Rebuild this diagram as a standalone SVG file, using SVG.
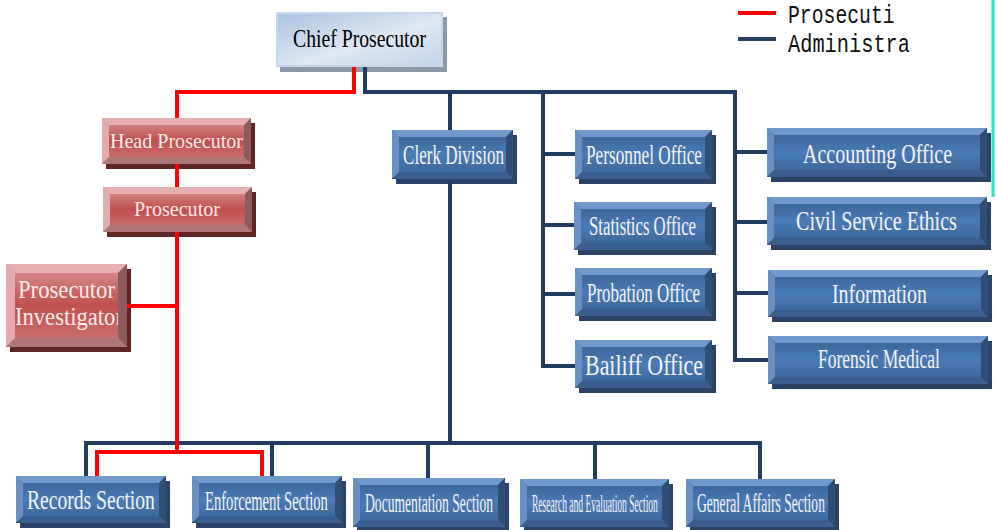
<svg xmlns="http://www.w3.org/2000/svg" width="996" height="530" viewBox="0 0 996 530">
<defs>
<linearGradient id="gBlue" x1="0" y1="0" x2="0" y2="1">
<stop offset="0" stop-color="#35608f"/><stop offset="0.5" stop-color="#4a7bb6"/><stop offset="1" stop-color="#37628f"/>
</linearGradient>
<linearGradient id="gRed" x1="0" y1="0" x2="0" y2="1">
<stop offset="0" stop-color="#d89594"/><stop offset="0.5" stop-color="#c0504d"/><stop offset="1" stop-color="#cc7876"/>
</linearGradient>
<linearGradient id="gChief" x1="0" y1="0" x2="1" y2="1">
<stop offset="0" stop-color="#a9c1e0"/><stop offset="0.55" stop-color="#dfe8f3"/><stop offset="1" stop-color="#c2d3ea"/>
</linearGradient>
<clipPath id="clipInv"><rect x="6" y="264" width="112" height="83"/></clipPath>
</defs>
<style>
.bsh{fill:#2b4465}.bc{fill:url(#gBlue)}.bt{fill:#7199cb}.bl{fill:#6a90c3}.br{fill:#2f4d75}.bb{fill:#3a5f8f}
.rsh{fill:#5f2525}.rc{fill:url(#gRed)}.rt{fill:#e6b0b0}.rl{fill:#e3abab}.rr{fill:#8c5b5b}.rb{fill:#ae7777}
.tw{font-family:"Liberation Serif","Times New Roman",serif;fill:#f4f4f4}
.tr{font-family:"Liberation Serif","Times New Roman",serif;fill:#fbeaea}
.tk{font-family:"Liberation Serif","Times New Roman",serif;fill:#000}
.lg{font-family:"Liberation Mono","DejaVu Sans Mono",monospace;font-size:26px;fill:#111}
.cb{fill:none;stroke:#213c60;stroke-width:4;stroke-linejoin:miter}
.cr{fill:none;stroke:#ff0000;stroke-width:4;stroke-linejoin:miter}
</style>
<rect width="996" height="530" fill="#ffffff"/>
<line x1="993" y1="0" x2="993" y2="197" stroke="#1ee8c4" stroke-width="3"/>
<g id="legend">
<line x1="738" y1="13" x2="776" y2="13" stroke="#ff0000" stroke-width="4"/>
<line x1="738" y1="39" x2="776" y2="39" stroke="#243f60" stroke-width="4"/>
<text class="lg" transform="translate(788,23) scale(0.762,1)" textLength="140" lengthAdjust="spacingAndGlyphs">Prosecuti</text>
<text class="lg" transform="translate(788,52) scale(0.782,1)" textLength="156" lengthAdjust="spacingAndGlyphs">Administra</text>
</g>
<g id="chief">
<rect x="280" y="17" width="167" height="55" fill="#8d98a8"/>
<rect x="277" y="13" width="165" height="53" fill="url(#gChief)" stroke="#c8d8ec" stroke-width="2"/>
<text class="tk" font-size="26" transform="translate(293,47) scale(0.758,1)" textLength="175.5" lengthAdjust="spacingAndGlyphs">Chief Prosecutor</text>
</g>
<g id="head-prosecutor">
<rect class="rsh" x="106" y="123" width="149" height="46"/>
<rect class="rc" x="102" y="118" width="149" height="46"/>
<polygon class="rt" points="102,118 251,118 244,125 109,125"/>
<polygon class="rl" points="102,118 109,125 109,157 102,164"/>
<polygon class="rr" points="251,118 251,164 244,157 244,125"/>
<polygon class="rb" points="102,164 251,164 244,157 109,157"/>
<text class="tr" font-size="22" transform="translate(110,148) scale(0.911,1)" textLength="146" lengthAdjust="spacingAndGlyphs">Head Prosecutor</text>
</g>
<g id="prosecutor">
<rect class="rsh" x="107" y="192" width="149" height="45"/>
<rect class="rc" x="103" y="187" width="149" height="45"/>
<polygon class="rt" points="103,187 252,187 245,194 110,194"/>
<polygon class="rl" points="103,187 110,194 110,225 103,232"/>
<polygon class="rr" points="252,187 252,232 245,225 245,194"/>
<polygon class="rb" points="103,232 252,232 245,225 110,225"/>
<text class="tr" font-size="22" transform="translate(134,216) scale(0.914,1)" textLength="94.1" lengthAdjust="spacingAndGlyphs">Prosecutor</text>
</g>
<g id="prosecutor-investigator">
<rect class="rsh" x="10" y="269" width="121" height="83"/>
<rect class="rc" x="6" y="264" width="121" height="83"/>
<polygon class="rt" points="6,264 127,264 118,273 15,273"/>
<polygon class="rl" points="6,264 15,273 15,338 6,347"/>
<polygon class="rr" points="127,264 127,347 118,338 118,273"/>
<polygon class="rb" points="6,347 127,347 118,338 15,338"/>
<g clip-path="url(#clipInv)">
<text class="tr" font-size="25" transform="translate(18,298) scale(0.907,1)" textLength="106.9" lengthAdjust="spacingAndGlyphs">Prosecutor</text>
<text class="tr" font-size="25" transform="translate(15,325) scale(0.904,1)" textLength="119.4" lengthAdjust="spacingAndGlyphs">Investigator</text>
</g>
</g>
<g id="clerk-division">
<rect class="bsh" x="396" y="135" width="121" height="49"/>
<rect class="bc" x="392" y="130" width="121" height="49"/>
<polygon class="bt" points="392,130 513,130 506,137 399,137"/>
<polygon class="bl" points="392,130 399,137 399,172 392,179"/>
<polygon class="br" points="513,130 513,179 506,172 506,137"/>
<polygon class="bb" points="392,179 513,179 506,172 399,172"/>
<text class="tw" font-size="28" transform="translate(403,164) scale(0.61,1)" textLength="165.7" lengthAdjust="spacingAndGlyphs">Clerk Division</text>
</g>
<g id="personnel-office">
<rect class="bsh" x="579" y="135" width="137" height="49"/>
<rect class="bc" x="575" y="130" width="137" height="49"/>
<polygon class="bt" points="575,130 712,130 705,137 582,137"/>
<polygon class="bl" points="575,130 582,137 582,172 575,179"/>
<polygon class="br" points="712,130 712,179 705,172 705,137"/>
<polygon class="bb" points="575,179 712,179 705,172 582,172"/>
<text class="tw" font-size="28" transform="translate(586,164) scale(0.614,1)" textLength="188.9" lengthAdjust="spacingAndGlyphs">Personnel Office</text>
</g>
<g id="statistics-office">
<rect class="bsh" x="578" y="207" width="138" height="48"/>
<rect class="bc" x="574" y="202" width="138" height="48"/>
<polygon class="bt" points="574,202 712,202 705,209 581,209"/>
<polygon class="bl" points="574,202 581,209 581,243 574,250"/>
<polygon class="br" points="712,202 712,250 705,243 705,209"/>
<polygon class="bb" points="574,250 712,250 705,243 581,243"/>
<text class="tw" font-size="27" transform="translate(589,235) scale(0.618,1)" textLength="173.2" lengthAdjust="spacingAndGlyphs">Statistics Office</text>
</g>
<g id="probation-office">
<rect class="bsh" x="579" y="273" width="137" height="48"/>
<rect class="bc" x="575" y="268" width="137" height="48"/>
<polygon class="bt" points="575,268 712,268 705,275 582,275"/>
<polygon class="bl" points="575,268 582,275 582,309 575,316"/>
<polygon class="br" points="712,268 712,316 705,309 705,275"/>
<polygon class="bb" points="575,316 712,316 705,309 582,309"/>
<text class="tw" font-size="28" transform="translate(587,302) scale(0.603,1)" textLength="187.4" lengthAdjust="spacingAndGlyphs">Probation Office</text>
</g>
<g id="bailiff-office">
<rect class="bsh" x="579" y="345" width="137" height="48"/>
<rect class="bc" x="575" y="340" width="137" height="48"/>
<polygon class="bt" points="575,340 712,340 705,347 582,347"/>
<polygon class="bl" points="575,340 582,347 582,381 575,388"/>
<polygon class="br" points="712,340 712,388 705,381 705,347"/>
<polygon class="bb" points="575,388 712,388 705,381 582,381"/>
<text class="tw" font-size="30" transform="translate(585,375) scale(0.726,1)" textLength="162.5" lengthAdjust="spacingAndGlyphs">Bailiff Office</text>
</g>
<g id="accounting-office">
<rect class="bsh" x="771" y="133" width="220" height="49"/>
<rect class="bc" x="767" y="128" width="220" height="49"/>
<polygon class="bt" points="767,128 987,128 980,135 774,135"/>
<polygon class="bl" points="767,128 774,135 774,170 767,177"/>
<polygon class="br" points="987,128 987,177 980,170 980,135"/>
<polygon class="bb" points="767,177 987,177 980,170 774,170"/>
<text class="tw" font-size="27" transform="translate(803,163) scale(0.739,1)" textLength="201.7" lengthAdjust="spacingAndGlyphs">Accounting Office</text>
</g>
<g id="civil-service-ethics">
<rect class="bsh" x="771" y="202" width="220" height="48"/>
<rect class="bc" x="767" y="197" width="220" height="48"/>
<polygon class="bt" points="767,197 987,197 980,204 774,204"/>
<polygon class="bl" points="767,197 774,204 774,238 767,245"/>
<polygon class="br" points="987,197 987,245 980,238 980,204"/>
<polygon class="bb" points="767,245 987,245 980,238 774,238"/>
<text class="tw" font-size="27" transform="translate(796,230) scale(0.745,1)" textLength="216" lengthAdjust="spacingAndGlyphs">Civil Service Ethics</text>
</g>
<g id="information">
<rect class="bsh" x="772" y="275" width="220" height="47"/>
<rect class="bc" x="768" y="270" width="220" height="47"/>
<polygon class="bt" points="768,270 988,270 981,277 775,277"/>
<polygon class="bl" points="768,270 775,277 775,310 768,317"/>
<polygon class="br" points="988,270 988,317 981,310 981,277"/>
<polygon class="bb" points="768,317 988,317 981,310 775,310"/>
<text class="tw" font-size="27" transform="translate(832,303) scale(0.736,1)" textLength="129" lengthAdjust="spacingAndGlyphs">Information</text>
</g>
<g id="forensic-medical">
<rect class="bsh" x="772" y="341" width="220" height="48"/>
<rect class="bc" x="768" y="336" width="220" height="48"/>
<polygon class="bt" points="768,336 988,336 981,343 775,343"/>
<polygon class="bl" points="768,336 775,343 775,377 768,384"/>
<polygon class="br" points="988,336 988,384 981,377 981,343"/>
<polygon class="bb" points="768,384 988,384 981,377 775,377"/>
<text class="tw" font-size="27" transform="translate(818,368) scale(0.648,1)" textLength="188.2" lengthAdjust="spacingAndGlyphs">Forensic Medical</text>
</g>
<g id="records-section">
<rect class="bsh" x="20" y="481" width="150" height="47"/>
<rect class="bc" x="16" y="476" width="150" height="47"/>
<polygon class="bt" points="16,476 166,476 159,483 23,483"/>
<polygon class="bl" points="16,476 23,483 23,516 16,523"/>
<polygon class="br" points="166,476 166,523 159,516 159,483"/>
<polygon class="bb" points="16,523 166,523 159,516 23,516"/>
<text class="tw" font-size="27" transform="translate(27,509) scale(0.726,1)" textLength="176.2" lengthAdjust="spacingAndGlyphs">Records Section</text>
</g>
<g id="enforcement-section">
<rect class="bsh" x="196" y="481" width="150" height="47"/>
<rect class="bc" x="192" y="476" width="150" height="47"/>
<polygon class="bt" points="192,476 342,476 335,483 199,483"/>
<polygon class="bl" points="192,476 199,483 199,516 192,523"/>
<polygon class="br" points="342,476 342,523 335,516 335,483"/>
<polygon class="bb" points="192,523 342,523 335,516 199,516"/>
<text class="tw" font-size="27" transform="translate(205,510) scale(0.541,1)" textLength="227.2" lengthAdjust="spacingAndGlyphs">Enforcement Section</text>
</g>
<g id="documentation-section">
<rect class="bsh" x="357" y="483" width="152" height="49"/>
<rect class="bc" x="353" y="478" width="152" height="49"/>
<polygon class="bt" points="353,478 505,478 498,485 360,485"/>
<polygon class="bl" points="353,478 360,485 360,520 353,527"/>
<polygon class="br" points="505,478 505,527 498,520 498,485"/>
<polygon class="bb" points="353,527 505,527 498,520 360,520"/>
<text class="tw" font-size="27" transform="translate(365,512) scale(0.504,1)" textLength="254.2" lengthAdjust="spacingAndGlyphs">Documentation Section</text>
</g>
<g id="research-evaluation-section">
<rect class="bsh" x="524" y="484" width="149" height="48"/>
<rect class="bc" x="520" y="479" width="149" height="48"/>
<polygon class="bt" points="520,479 669,479 662,486 527,486"/>
<polygon class="bl" points="520,479 527,486 527,520 520,527"/>
<polygon class="br" points="669,479 669,527 662,520 662,486"/>
<polygon class="bb" points="520,527 669,527 662,520 527,520"/>
<text class="tw" font-size="26" transform="translate(532,512) scale(0.367,1)" textLength="343" lengthAdjust="spacingAndGlyphs">Research and Evaluation Section</text>
</g>
<g id="general-affairs-section">
<rect class="bsh" x="690" y="484" width="149" height="48"/>
<rect class="bc" x="686" y="479" width="149" height="48"/>
<polygon class="bt" points="686,479 835,479 828,486 693,486"/>
<polygon class="bl" points="686,479 693,486 693,520 686,527"/>
<polygon class="br" points="835,479 835,527 828,520 828,486"/>
<polygon class="bb" points="686,527 835,527 828,520 693,520"/>
<text class="tw" font-size="27" transform="translate(697,512) scale(0.499,1)" textLength="256.4" lengthAdjust="spacingAndGlyphs">General Affairs Section</text>
</g>
<g id="connectors">
<path class="cb" d="M365,67 V92 H735 V360 H768"/>
<path class="cb" d="M735,152 H767 M735,222 H767 M735,293 H768"/>
<path class="cb" d="M450,92 V130 M450,179 V443"/>
<path class="cb" d="M543,92 V366 H575 M543,154 H575 M543,225 H574 M543,294 H575"/>
<path class="cb" d="M86,476 V443 H760 V479"/>
<path class="cb" d="M272,443 V476 M428,443 V478 M595,443 V479"/>
<path class="cr" d="M354,67 V92 H177 V118"/>
<path class="cr" d="M177,164 V187"/>
<path class="cr" d="M177,232 V452 M127,306 H177"/>
<path class="cr" d="M97,476 V452 H262 V476"/>
</g>
</svg>
